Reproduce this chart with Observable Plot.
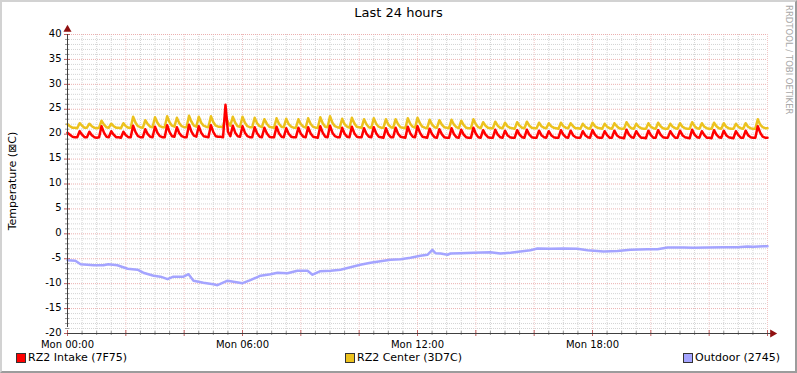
<!DOCTYPE html>
<html>
<head>
<meta charset="utf-8">
<script src="https://cdn.jsdelivr.net/npm/d3@7"></script>
<script src="https://cdn.jsdelivr.net/npm/@observablehq/plot@0.6"></script>
<style>
  html, body { margin: 0; padding: 0; background: #fff; }
  #wrap { position: relative; width: 797px; height: 373px; font-family: "DejaVu Sans", sans-serif; overflow: hidden; }
  #wrap svg { position: absolute; left: 0; top: 0; }
  .lbl { position: absolute; white-space: nowrap; color: #000; }
  #frame { position: absolute; left: 0; top: 0; width: 797px; height: 373px; box-sizing: border-box;
           border-top: 2px solid #d2d2d2; border-left: 2px solid #d2d2d2;
           border-bottom: 2px solid #9c9c9c; border-right: 2px solid #9c9c9c; pointer-events: none; }
  .sw { position: absolute; width: 8px; height: 8px; border: 1px solid #333; }
</style>
</head>
<body>
<div id="wrap"></div>
<script>
// ---- data (5-minute samples, 00:00 .. 24:00) ----
const intake = [
  20.3,19.9,19.5,19.4,19.4, 20.6,19.9,19.4,19.4,
  20.5,19.8,19.4,19.3,19.4, 21.6,20.3,19.5,19.4,
  20.6,19.9,19.4,19.4,19.3, 20.5,19.8,19.4,19.4,
  21.7,20.4,19.6,19.4,19.4, 21.0,20.0,19.5,19.4,
  21.5,20.3,19.6,19.4,19.4, 21.8,20.4,19.6,19.5,
  21.4,20.2,19.6,19.4,19.4, 21.9,20.5,19.7,19.5,
  21.6,20.3,19.6,19.5,19.4, 21.8,20.4,19.6,19.5,
  19.5,19.4,25.9,20.5,19.6, 21.7,20.3,19.6,19.5,
  21.6,20.3,19.6,19.4,19.4, 21.4,20.2,19.5,19.4,
  21.3,20.2,19.5,19.4,19.4, 21.5,20.2,19.5,19.4,
  21.2,20.1,19.5,19.4,19.4, 21.3,20.1,19.5,19.4,
  21.4,20.2,19.5,19.4,19.3, 21.6,20.3,19.5,19.4,
  21.7,20.3,19.6,19.4,19.4, 21.3,20.1,19.5,19.4,
  21.5,20.2,19.5,19.4,19.4, 21.2,20.1,19.5,19.4,
  21.4,20.2,19.5,19.4,19.3, 21.2,20.0,19.4,19.4,
  21.3,20.1,19.5,19.4,19.3, 21.5,20.2,19.5,19.4,
  21.6,20.3,19.5,19.4,19.3, 21.1,20.0,19.4,19.3,
  21.0,20.0,19.4,19.3,19.3, 21.2,20.0,19.4,19.3,
  20.9,19.9,19.4,19.3,19.3, 21.3,20.1,19.4,19.3,
  20.8,19.9,19.4,19.3,19.3, 20.9,19.9,19.4,19.3,
  20.7,19.8,19.4,19.3,19.3, 20.8,19.9,19.4,19.3,
  20.9,19.9,19.4,19.3,19.3, 20.7,19.8,19.4,19.3,
  20.6,19.8,19.4,19.3,19.3, 20.8,19.9,19.4,19.3,
  20.7,19.8,19.4,19.3,19.3, 20.6,19.8,19.4,19.3,
  20.8,19.9,19.4,19.3,19.3, 20.6,19.8,19.3,19.3,
  20.7,19.8,19.4,19.3,19.2, 20.9,19.9,19.4,19.3,
  20.6,19.8,19.3,19.3,19.2, 20.7,19.8,19.3,19.3,
  20.8,19.9,19.4,19.3,19.3, 20.6,19.8,19.3,19.3,
  20.7,19.8,19.4,19.3,19.2, 20.9,19.9,19.4,19.3,
  20.6,19.8,19.3,19.3,19.2, 20.8,19.9,19.4,19.3,
  20.7,19.8,19.4,19.3,19.2, 20.6,19.8,19.3,19.3,
  20.7,19.8,19.4,19.3,19.3, 21.6,20.3,19.5,19.3,
  19.3
];
const center = [
  22.0,21.6,21.3,21.3,21.2, 22.2,21.7,21.3,21.3,
  22.1,21.6,21.3,21.2,21.3, 22.7,21.9,21.4,21.3,
  22.1,21.6,21.3,21.3,21.2, 22.2,21.6,21.3,21.3,
  23.5,22.3,21.6,21.4,21.3, 22.8,22.0,21.5,21.4,
  23.4,22.3,21.6,21.4,21.4, 23.6,22.4,21.7,21.5,
  23.3,22.2,21.6,21.4,21.4, 23.7,22.5,21.7,21.5,
  23.5,22.3,21.7,21.5,21.4, 23.6,22.4,21.7,21.5,
  21.5,21.4,23.7,22.4,21.7, 23.5,22.3,21.6,21.5,
  23.5,22.3,21.6,21.4,21.4, 23.3,22.2,21.6,21.4,
  23.0,22.1,21.5,21.4,21.3, 23.2,22.1,21.5,21.4,
  23.1,22.0,21.5,21.3,21.3, 23.0,22.0,21.5,21.3,
  23.2,22.1,21.5,21.3,21.3, 23.4,22.2,21.5,21.4,
  23.6,22.3,21.6,21.4,21.3, 23.1,22.0,21.5,21.3,
  23.3,22.2,21.5,21.4,21.3, 23.0,22.0,21.4,21.3,
  23.2,22.1,21.5,21.3,21.3, 23.0,21.9,21.4,21.3,
  23.0,22.0,21.4,21.3,21.2, 23.2,22.1,21.5,21.3,
  23.3,22.2,21.5,21.3,21.2, 22.9,21.9,21.4,21.3,
  22.8,21.9,21.4,21.3,21.2, 22.9,21.9,21.4,21.2,
  22.7,21.8,21.3,21.2,21.2, 23.0,22.0,21.4,21.2,
  22.4,21.7,21.3,21.2,21.2, 22.5,21.7,21.3,21.2,
  22.3,21.6,21.3,21.2,21.1, 22.4,21.7,21.3,21.2,
  22.5,21.7,21.3,21.2,21.2, 22.3,21.6,21.3,21.2,
  22.2,21.6,21.3,21.2,21.1, 22.3,21.6,21.3,21.2,
  22.2,21.6,21.2,21.2,21.1, 22.1,21.5,21.2,21.1,
  22.3,21.6,21.3,21.2,21.1, 22.1,21.5,21.2,21.1,
  22.2,21.6,21.2,21.1,21.1, 22.4,21.6,21.2,21.1,
  22.1,21.5,21.2,21.1,21.1, 22.2,21.5,21.2,21.1,
  22.3,21.6,21.2,21.1,21.1, 22.1,21.5,21.2,21.1,
  22.2,21.5,21.2,21.1,21.1, 22.4,21.6,21.2,21.1,
  22.2,21.5,21.2,21.1,21.1, 22.3,21.6,21.2,21.1,
  22.2,21.5,21.2,21.1,21.1, 22.1,21.5,21.2,21.1,
  22.2,21.5,21.2,21.1,21.1, 23.0,21.9,21.4,21.2,
  21.2
];
const outdoorHours = [0,0.27,0.45,0.9,1.23,1.4,1.71,2.06,2.4,2.6,2.95,3.19,3.43,3.63,3.98,4.15,4.32,4.66,5.0,5.14,5.49,5.69,6.0,6.27,6.62,6.96,7.2,7.54,7.88,8.23,8.4,8.67,9.02,9.36,9.7,10.04,10.39,10.73,11.07,11.42,11.76,12.1,12.34,12.51,12.62,12.79,13.03,13.13,13.47,13.92,14.5,14.84,15.19,15.53,15.87,16.11,16.56,17.0,17.48,17.83,18.38,18.86,19.3,19.88,20.23,20.57,21.12,21.46,21.94,22.49,22.97,23.31,23.52,23.87,24];
const outdoorTemp = [-5.3,-5.4,-6.1,-6.3,-6.3,-6.1,-6.3,-7.0,-7.2,-7.8,-8.4,-8.6,-9.1,-8.6,-8.6,-8.1,-9.4,-9.8,-10.1,-10.3,-9.4,-9.6,-9.9,-9.3,-8.4,-8.1,-7.8,-7.9,-7.4,-7.4,-8.2,-7.5,-7.4,-7.2,-6.7,-6.2,-5.8,-5.5,-5.2,-5.1,-4.8,-4.4,-4.2,-3.2,-3.9,-3.95,-4.2,-3.95,-3.9,-3.8,-3.7,-3.95,-3.8,-3.55,-3.3,-2.95,-3.0,-2.95,-3.0,-3.3,-3.55,-3.45,-3.2,-3.1,-3.1,-2.75,-2.75,-2.8,-2.75,-2.7,-2.7,-2.55,-2.6,-2.5,-2.5];

const xTickHours = [0, 6, 12, 18];
const xTickLabels = ["Mon 00:00", "Mon 06:00", "Mon 12:00", "Mon 18:00"];
const yTicks = [-20, -15, -10, -5, 0, 5, 10, 15, 20, 25, 30, 35, 40];
const seriesNames = ["RZ2 Intake (7F75)", "RZ2 Center (3D7C)", "Outdoor (2745)"];
const seriesColors = ["#ff0000", "#ecc21e", "#a4a4ff"];

// ---- build tables ----
const intakeRows = intake.map((v, i) => ({t: i / 12, v}));
const centerRows = center.map((v, i) => ({t: i / 12, v}));
const outdoorRows = outdoorHours.map((t, i) => ({t, v: outdoorTemp[i]}));
const minorX = d3.range(0, 24.01, 0.5).filter(h => h % 2 !== 0);
const majorX = d3.range(0, 24.01, 2);
const minorY = d3.range(-20, 40.01, 1).filter(v => v % 5 !== 0);
const majorY = yTicks;

const chart = Plot.plot({
  width: 797, height: 373,
  marginLeft: 67, marginRight: 30, marginTop: 34, marginBottom: 40,
  style: {fontFamily: "DejaVu Sans, sans-serif", background: "transparent"},
  x: {type: "linear", domain: [0, 24], axis: null},
  y: {type: "linear", domain: [-20, 40], axis: null},
  marks: [
    Plot.ruleX(minorX, {x: d => d, y1: -20, y2: 40, stroke: "#d4d4d4", strokeDasharray: "1,1", strokeWidth: 1}),
    Plot.ruleY(minorY, {y: d => d, x1: 0, x2: 24, stroke: "#d4d4d4", strokeDasharray: "1,1", strokeWidth: 1}),
    Plot.ruleX(majorX.filter(d => d > 0), {x: d => d, y1: -20, y2: 40, stroke: "#f2c6c6", strokeDasharray: "1,1", strokeWidth: 1}),
    Plot.ruleY(majorY.filter(d => d > -20), {y: d => d, x1: 0, x2: 24, stroke: "#ebb0b0", strokeDasharray: "1,1", strokeWidth: 1}),
    // axis ticks
    Plot.ruleY(minorY, {y: d => d, x1: 0, x2: 0, insetLeft: -2, insetRight: -2, stroke: "#999"}),
    Plot.ruleY(majorY, {y: d => d, x1: 0, x2: 0, insetLeft: -3, insetRight: -3, stroke: "#c06060"}),
    Plot.ruleX(minorX, {x: d => d, y1: -20, y2: -20, insetTop: -2, insetBottom: -2, stroke: "#999"}),
    Plot.ruleX(majorX, {x: d => d, y1: -20, y2: -20, insetTop: -3, insetBottom: -3, stroke: "#c06060"}),
    // data
    Plot.line(outdoorRows, {x: "t", y: "v", stroke: seriesColors[2], strokeWidth: 2.5}),
    Plot.line(centerRows, {x: "t", y: "v", stroke: seriesColors[1], strokeWidth: 2.5}),
    Plot.line(intakeRows, {x: "t", y: "v", stroke: seriesColors[0], strokeWidth: 2.5}),
    // axes
    Plot.ruleX([0], {y1: -20, y2: 40, insetTop: -6, stroke: "#404040", strokeWidth: 1}),
    Plot.ruleY([-20], {x1: 0, x2: 24, insetRight: -4, stroke: "#404040", strokeWidth: 1}),
    Plot.dot([0], {x: d => d, y: 40, symbol: "triangle", r: 3, dy: -5, fill: "#901010", stroke: "none"}),
    Plot.dot([24], {x: d => d, y: -20, symbol: "triangle", r: 3, dx: 5, rotate: 90, fill: "#901010", stroke: "none"}),
    // tick labels
    Plot.text(yTicks, {x: 0, y: d => d, text: d => String(d), textAnchor: "end", dx: -6, dy: -1, fontSize: 10, fill: "#000"}),
    Plot.text(xTickHours, {x: d => d, y: -20, text: (d, i) => xTickLabels[i], dy: 11, fontSize: 10, fill: "#000"})
  ]
});

const wrap = document.getElementById("wrap");
wrap.appendChild(chart);

function addLabel(text, css) {
  const el = document.createElement("div");
  el.className = "lbl";
  el.textContent = text;
  Object.assign(el.style, css);
  wrap.appendChild(el);
  return el;
}
addLabel("Last 24 hours", {left: "0px", width: "797px", textAlign: "center", top: "5px", fontSize: "13px"});
addLabel("Temperature (\u22A0C)", {left: "12px", top: "181px", fontSize: "11px",
  transform: "translate(-50%,-50%) rotate(-90deg)"});
addLabel("RRDTOOL / TOBI OETIKER", {left: "784px", top: "5px", fontSize: "8.5px", color: "#a8a8a8",
  writingMode: "vertical-rl", letterSpacing: "0px"});

const legendX = [16, 345, 683];
seriesNames.forEach((name, i) => {
  const sw = document.createElement("div");
  sw.className = "sw";
  Object.assign(sw.style, {left: legendX[i] + "px", top: "353px", background: seriesColors[i]});
  wrap.appendChild(sw);
  addLabel(name, {left: (legendX[i] + 12) + "px", top: "351px", fontSize: "11px"});
});

const frame = document.createElement("div");
frame.id = "frame";
wrap.appendChild(frame);
</script>
</body>
</html>
